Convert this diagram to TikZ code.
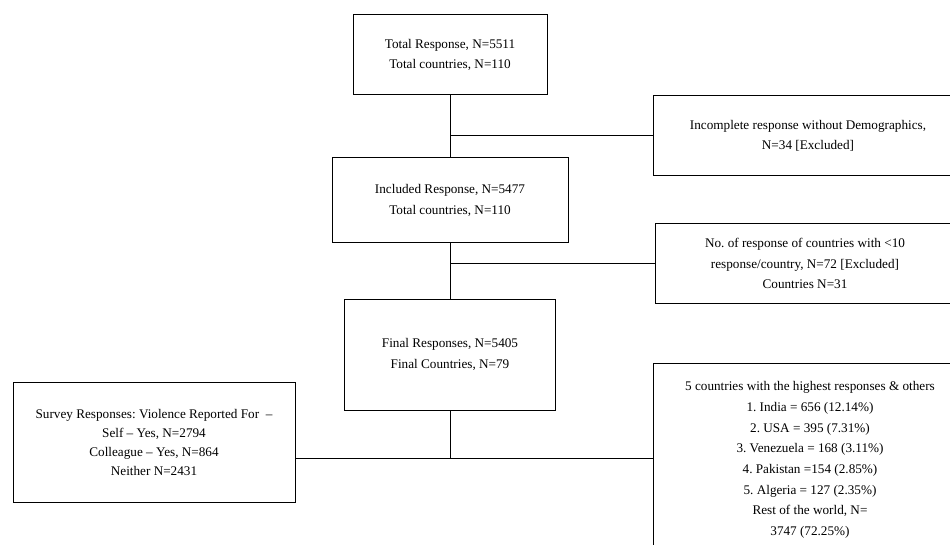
\documentclass[tikz,border=0pt]{standalone}
\usepackage{fontspec}
\setmainfont{Liberation Serif}
\frenchspacing
\begin{document}
\begin{tikzpicture}[x=1pt,y=-1pt,
    flowbox/.style={draw,line width=1pt,align=center,inner sep=0pt,outer sep=0pt,
      font=\fontsize{13.2}{20.5}\selectfont},
    link/.style={line width=1pt}]
      \useasboundingbox (0,0) rectangle (950,545);
      \clip (0,0) rectangle (950,545);
      \draw
        (450,55) node[flowbox,minimum width=194pt,minimum height=80pt] (total)
          {Total Response, N=5511\\Total countries, N=110}
        (808,136) node[flowbox,minimum width=310pt,minimum height=80pt] (incomplete)
          {Incomplete response without Demographics,\\N=34 [Excluded]}
        (450,200.5) node[flowbox,minimum width=236pt,minimum height=85pt] (included)
          {Included Response, N=5477\\Total countries, N=110}
        (805,263.5) node[flowbox,minimum width=300pt,minimum height=79pt] (fewresp)
          {No. of response of countries with <10\\response/country, N=72 [Excluded]\\Countries N=31}
        (450,354.5) node[flowbox,minimum width=211pt,minimum height=111pt] (final)
          {Final Responses, N=5405\\Final Countries, N=79}
        (154,442) node[flowbox,minimum width=282pt,minimum height=120pt,
            font=\fontsize{13.2}{19}\selectfont] (survey)
          {Survey Responses: Violence Reported For~~–\\Self – Yes, N=2794\\Colleague – Yes, N=864\\Neither N=2431}
        (810,460) node[flowbox,minimum width=314pt,minimum height=194pt,
            font=\fontsize{13.2}{20.7}\selectfont] (topfive)
          {5 countries with the highest responses \& others\\1. India = 656 (12.14\%)\\2. USA = 395 (7.31\%)\\3. Venezuela = 168 (3.11\%)\\4. Pakistan =154 (2.85\%)\\5. Algeria = 127 (2.35\%)\\Rest of the world, N=\\3747 (72.25\%)};
      \coordinate (j1) at (total.south |- incomplete.west);
      \coordinate (j2) at (included.south |- fewresp.west);
      \coordinate (j3) at (450,458);
      \begin{scope}[link]
        \draw (total) to (included);
        \draw (j1) to (incomplete.west);
        \draw (included) to (final);
        \draw (j2) to (fewresp.west);
        \draw (final.south) to (j3);
        \draw (j3 -| survey.east) to (j3 -| topfive.west);
      \end{scope}
    \end{tikzpicture}
\end{document}
